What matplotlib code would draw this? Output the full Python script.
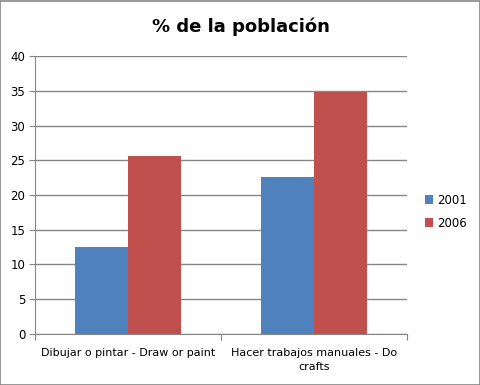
import matplotlib
matplotlib.use("Agg")
import matplotlib.pyplot as plt
import numpy as np
from matplotlib.patches import Rectangle

categories = ["Dibujar o pintar - Draw or paint", "Hacer trabajos manuales - Do\ncrafts"]
years = ["2001", "2006"]
values_2001 = [12.5, 22.6]
values_2006 = [25.6, 34.8]
colors = ["#4F81BD", "#C0504D"]

fig = plt.figure(figsize=(4.81, 3.85), dpi=100)
ax = fig.add_axes([0.0728, 0.1325, 0.773, 0.722])

x = np.arange(len(categories))
w = 0.284
ax.bar(x - w / 2, values_2001, w, color=colors[0], label=years[0], zorder=3)
ax.bar(x + w / 2, values_2006, w, color=colors[1], label=years[1], zorder=3)

ax.set_xlim(-0.5, 1.5)
ax.set_ylim(0, 40)
ax.set_yticks(range(0, 41, 5))
ax.yaxis.grid(True, color="#868686", lw=1)
ax.set_axisbelow(True)

for s in ["top", "right"]:
    ax.spines[s].set_visible(False)
ax.spines["left"].set_color("#868686")
ax.spines["bottom"].set_color("#868686")

ax.set_xticks([-0.5, 0.5, 1.5])
ax.set_xticklabels([])
ax.set_xticks(x, minor=True)
ax.set_xticklabels(categories, minor=True, fontsize=8, family="DejaVu Sans",
                   linespacing=1.5)
ax.tick_params(axis="x", which="minor", length=0, pad=10)
ax.tick_params(axis="x", which="major", length=4, color="#868686")
ax.tick_params(axis="y", length=4, color="#868686", labelsize=8.5, pad=3)

fig.text(0.5, 0.93, "% de la población", ha="center", va="center",
         fontsize=13, fontweight="bold")

ax.legend(loc="center left", bbox_to_anchor=(1.02, 0.44), frameon=False,
          fontsize=8.5, handlelength=0.7, handleheight=0.7, handletextpad=0.3,
          labelspacing=0.85)

fig.patches.append(Rectangle((0.001, 0.001), 0.997, 0.997, transform=fig.transFigure,
                             fill=False, edgecolor="#868686", lw=1.2))

fig.savefig("out.png", dpi=100)
